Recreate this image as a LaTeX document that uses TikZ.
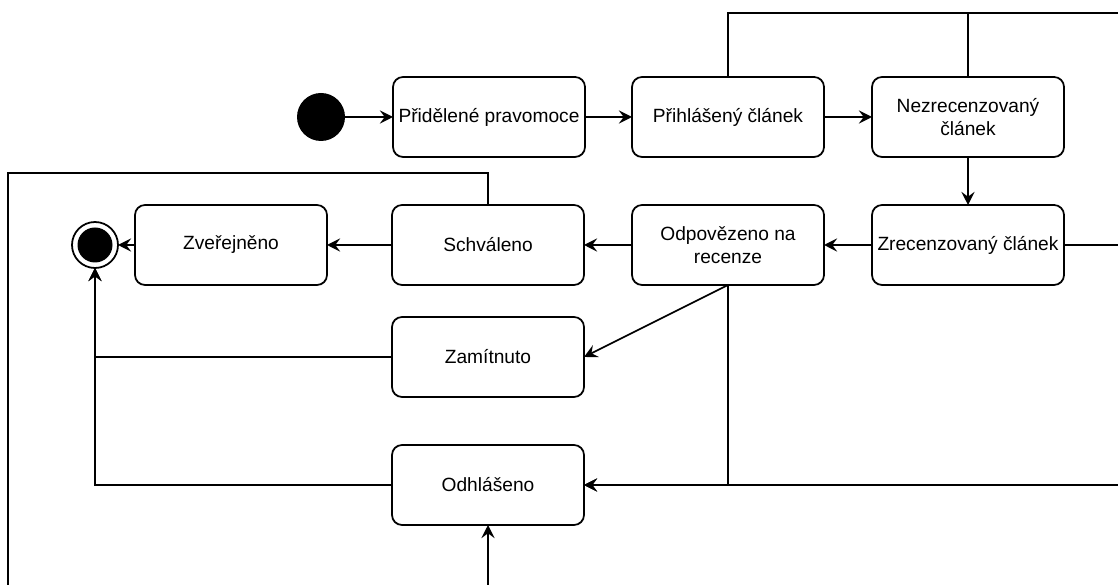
\documentclass[tikz,border=0pt]{standalone}
\usepackage{fontspec}
\setmainfont{Liberation Sans}
\usetikzlibrary{arrows.meta, positioning}
\tikzset {
  statebox/.style = {draw, line width=1pt, rounded corners=0.2cm, rectangle, fill=white, align=center, minimum width=3.84cm, minimum height=1.6cm, inner sep=1pt, outer sep=0pt, font=\fontsize{10.9}{13}\selectfont},
  startdot/.style = {circle, fill=black, minimum size=0.96cm, inner sep=0pt, outer sep=0pt},
  enddot/.style = {circle, draw, line width=1pt, fill=white, minimum size=0.92cm, inner sep=0pt, outer sep=0pt,
    path picture={\fill[black] (path picture bounding box.center) circle (0.35cm);}},
  line/.style = {->, line width=1pt, color=black, >={Stealth[length=7.5pt, width=7.5pt, inset=2.8pt]}},
  plain/.style = {line width=1pt, color=black}
}

\begin{document}
\begin{tikzpicture}[node distance=0.96cm]
    \useasboundingbox (0,0) rectangle (22.36,-11.7);
    \coordinate (rightedge) at (22.36,0);
    \coordinate (bottomedge) at (0,-11.7);
    \coordinate (leftedge) at (0.16,0);

    \node[startdot] (start) at (6.42,-2.34) {};
    \node[statebox, right=of start] (pravomoce) {Přidělené pravomoce};
    \node[statebox, right=0.94cm of pravomoce] (prihlaseny) {Přihlášený článek};
    \node[statebox, right=of prihlaseny] (nezrec) {Nezrecenzovaný\\článek};
    \node[statebox, below=of nezrec] (zrec) {Zrecenzovaný článek};
    \node[statebox, left=of zrec] (odpoved) {Odpovězeno na\\recenze};
    \node[statebox, left=of odpoved] (schvaleno) {Schváleno};
    \node[statebox, left=1.3cm of schvaleno] (zverejneno) {Zveřejněno};
    \node[enddot, left=0.34cm of zverejneno] (end) {};
    \node[statebox, below=0.64cm of schvaleno] (zamitnuto) {Zamítnuto};
    \node[statebox, below=of zamitnuto] (odhlaseno) {Odhlášeno};

    \coordinate (topline) at (0,-0.26);
    \coordinate (loopline) at (0,-3.46);

    \draw[line] (start) -- (pravomoce);
    \draw[line] (pravomoce) -- (prihlaseny);
    \draw[line] (prihlaseny) -- (nezrec);
    \draw[line] (nezrec) -- (zrec);
    \draw[line] (zrec) -- (odpoved);
    \draw[line] (odpoved) -- (schvaleno);
    \draw[line] (schvaleno) -- (zverejneno);
    \draw[line] (zverejneno) -- (end);
    \draw[line] (odpoved.south) -- (zamitnuto.east);
    \draw[line] (odpoved.south) |- (odhlaseno.east);
    \draw[line] (odhlaseno.east -| rightedge) -- (odhlaseno.east);
    \draw[line] (odhlaseno.south |- bottomedge) -- (odhlaseno.south);
    \draw[line] (zamitnuto.west) -| (end.south);
    \draw[line] (odhlaseno.west) -| (end.south);

    % lines leaving the picture
    \draw[plain] (prihlaseny.north) |- (topline -| rightedge);
    \draw[plain] (nezrec.north) -- (nezrec.north |- topline);
    \draw[plain] (zrec.east) -- (zrec.east -| rightedge);
    \draw[plain] (schvaleno.north) |- (loopline -| leftedge) -- (leftedge |- bottomedge);

\end{tikzpicture}
\end{document}
